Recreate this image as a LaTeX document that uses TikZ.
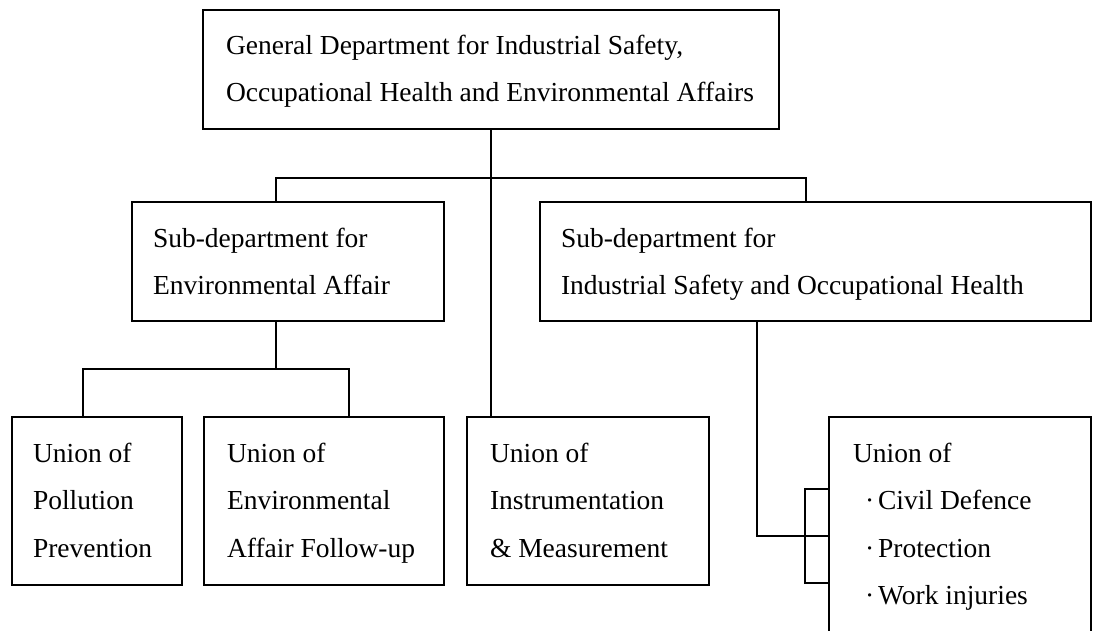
\documentclass[tikz,border=0pt]{standalone}
\usepackage{fontspec}
\setmainfont{Liberation Serif}
\begin{document}
\begin{tikzpicture}[x=1pt,y=-1pt,
  box/.style={draw, line width=1.6pt, inner sep=0pt, outer sep=0pt, anchor=north west},
  txt/.style={anchor=north west, inner sep=0pt, outer sep=0pt, align=left,
              font=\fontsize{27.5}{47.5}\selectfont},
  link/.style={line width=1.6pt}]
\useasboundingbox (0,0) rectangle (1093,630);
\clip (0,0) rectangle (1093,630);
% boxes
\node[box, minimum width=576pt, minimum height=119pt] (top)  at (203,10) {};
\node[box, minimum width=312pt, minimum height=119pt] (subL) at (132,202) {};
\node[box, minimum width=551pt, minimum height=119pt] (subR) at (540,202) {};
\node[box, minimum width=170pt, minimum height=168pt] (pol)  at (12,417) {};
\node[box, minimum width=240pt, minimum height=168pt] (env)  at (204,417) {};
\node[box, minimum width=242pt, minimum height=168pt] (ins)  at (467,417) {};
\node[box, minimum width=262pt, minimum height=243pt] (uni)  at (829,417) {};
% texts (north = first baseline - 0.7*47.5)
\node[txt] (tTop)  at (226,20.8)  {\strut General Department for Industrial Safety,\\Occupational Health and Environmental Affairs};
\node[txt] (tSubL) at (153,213.8) {\strut Sub-department for\\Environmental Affair};
\node[txt] (tSubR) at (561,213.8) {\strut Sub-department for\\Industrial Safety and Occupational Health};
\node[txt] (tPol)  at (33,428.8)  {\strut Union of\\Pollution\\Prevention};
\node[txt] (tEnv)  at (227,428.8) {\strut Union of\\Environmental\\Affair Follow-up};
\node[txt] (tIns)  at (490,428.8) {\strut Union of\\Instrumentation\\\&~Measurement};
\node[txt] (tUni)  at (853,428.8) {\strut Union of\\\hspace*{12pt}·\hspace{4pt}Civil Defence\\\hspace*{12pt}·\hspace{4pt}Protection\\\hspace*{12pt}·\hspace{4pt}Work injuries};
% connectors
\coordinate (aL) at (276,178);
\coordinate (aR) at (806,178);
\coordinate (bL) at (83,369);
\coordinate (bR) at (349,369);
\coordinate (c1) at (757,536);
\coordinate (k1) at (805,489);
\coordinate (k2) at (805,583);
\draw[link] (top.south) -- (top.south |- ins.north);
\draw[link] (aL |- subL.north) -- (aL) -- (aR) -- (aR |- subR.north);
\draw[link] (aL |- subL.south) -- (aL |- bL);
\draw[link] (bL |- pol.north) -- (bL) -- (bR) -- (bR |- env.north);
\draw[link] (c1 |- subR.south) -- (c1) -- (c1 -| uni.west);
\draw[link] (k1 -| uni.west) -- (k1) -- (k2) -- (k2 -| uni.west);
\end{tikzpicture}
\end{document}
